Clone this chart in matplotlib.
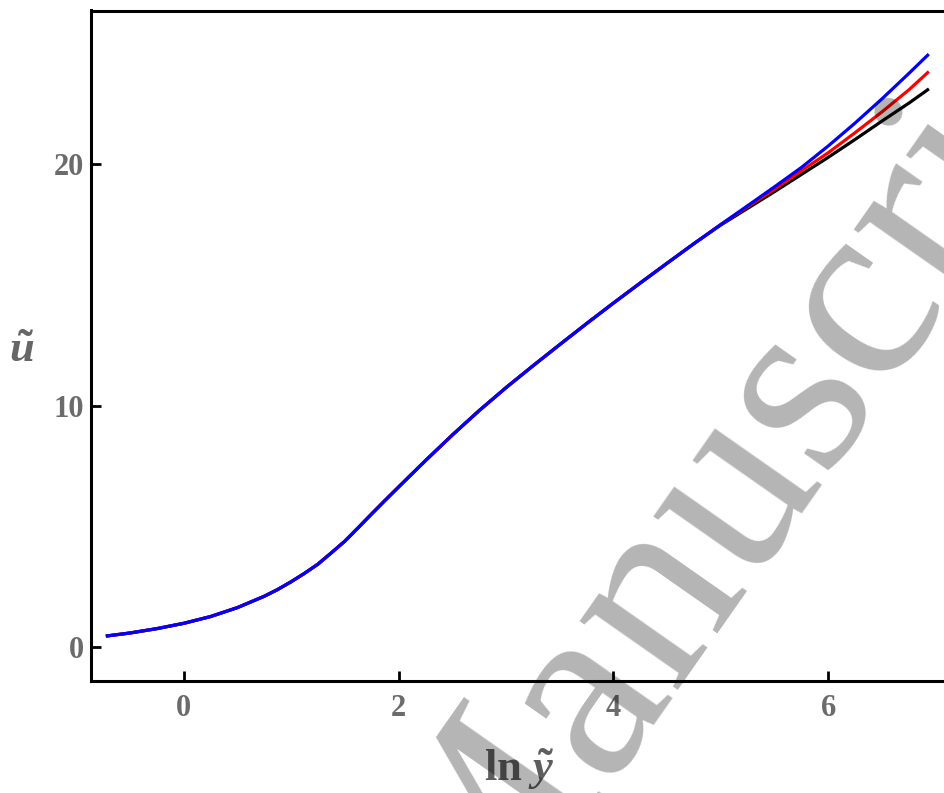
import matplotlib
matplotlib.use("Agg")
import matplotlib.pyplot as plt

# ---- data ----
ln_y = [-0.71, -0.5, -0.25, 0.0, 0.25, 0.5, 0.75, 0.875, 1.0, 1.125, 1.25, 1.375, 1.5,
        1.625, 1.75, 1.875, 2.0, 2.25, 2.5, 2.75, 3.0, 3.25, 3.5, 3.75, 4.0, 4.25, 4.5,
        4.75, 5.0, 5.25, 5.5, 5.75, 6.0, 6.25, 6.5, 6.75, 6.924]
u_blue = [0.48, 0.60, 0.78, 1.0, 1.28, 1.65, 2.12, 2.40, 2.72, 3.07, 3.45, 3.92, 4.40,
          4.96, 5.53, 6.09, 6.64, 7.73, 8.79, 9.8, 10.75, 11.65, 12.53, 13.4, 14.25, 15.08, 15.9,
          16.71, 17.5, 18.28, 19.06, 19.86, 20.75, 21.7, 22.7, 23.75, 24.5]
u_red = [0.48, 0.60, 0.78, 1.0, 1.28, 1.65, 2.12, 2.40, 2.72, 3.07, 3.45, 3.92, 4.40,
         4.96, 5.53, 6.09, 6.64, 7.73, 8.79, 9.8, 10.75, 11.65, 12.53, 13.4, 14.25, 15.08, 15.9,
         16.71, 17.5, 18.24, 18.96, 19.72, 20.47, 21.3, 22.16, 23.07, 23.78]
u_black = [0.48, 0.60, 0.78, 1.0, 1.28, 1.65, 2.12, 2.40, 2.72, 3.07, 3.45, 3.92, 4.40,
           4.96, 5.53, 6.09, 6.64, 7.73, 8.79, 9.8, 10.75, 11.65, 12.53, 13.4, 14.25, 15.08, 15.9,
           16.71, 17.48, 18.17, 18.86, 19.57, 20.28, 21.02, 21.78, 22.52, 23.07]
x_ticks = [0, 2, 4, 6]
y_ticks = [0, 10, 20]
watermark = "Manuscript"

plt.rcParams["mathtext.fontset"] = "custom"
plt.rcParams["mathtext.rm"] = "Liberation Serif:bold"
plt.rcParams["mathtext.it"] = "Liberation Serif:italic:bold"
plt.rcParams["mathtext.bf"] = "Liberation Serif:bold"

W, H = 945, 793
fig = plt.figure(figsize=(W / 100, H / 100), dpi=100)
ax = fig.add_axes([91 / W, 1 - 681 / H, (957.3 - 91) / W, (681 - 10.5) / H])

ax.plot(ln_y, u_black, color="black", lw=2.3, solid_joinstyle="round")
ax.plot(ln_y, u_red, color="red", lw=2.3, solid_joinstyle="round")
ax.plot(ln_y, u_blue, color="blue", lw=2.3, solid_joinstyle="round")

ax.set_xlim(-0.863, 7.2)
ax.set_ylim(-1.386, 26.35)
ax.set_xticks(x_ticks)
ax.set_yticks(y_ticks)
ax.set_xticklabels([str(t) for t in x_ticks])
ax.set_yticklabels([str(t) for t in y_ticks])

for s in ["left", "bottom", "top"]:
    ax.spines[s].set_linewidth(2.2)
ax.spines["right"].set_visible(False)

ax.tick_params(direction="in", length=7, width=2, colors="black")
ax.tick_params(axis="x", pad=9)
ax.tick_params(axis="y", pad=5)
for lab in ax.get_xticklabels() + ax.get_yticklabels():
    lab.set_fontfamily("Liberation Serif")
    lab.set_fontweight("bold")
    lab.set_fontsize(22)
    lab.set_color("#6b6b6b")

fig.text(519 / W, 1 - 781 / H, r"ln $\tilde{y}$", ha="center", va="baseline",
         fontfamily="Liberation Serif", fontweight="bold", fontsize=32, color="#5e5e5e")
fig.text(22 / W, 1 - 362 / H, r"$\tilde{u}$", ha="center", va="baseline",
         fontfamily="Liberation Serif", fontweight="bold", fontsize=32, color="#666666")

fig.text(473 / W, 1 - 973 / H, watermark, rotation=55, rotation_mode="anchor",
         ha="left", va="baseline", fontfamily="Liberation Serif", fontsize=188,
         color="black", alpha=0.295, zorder=10)

fig.savefig("out.png", dpi=100)
